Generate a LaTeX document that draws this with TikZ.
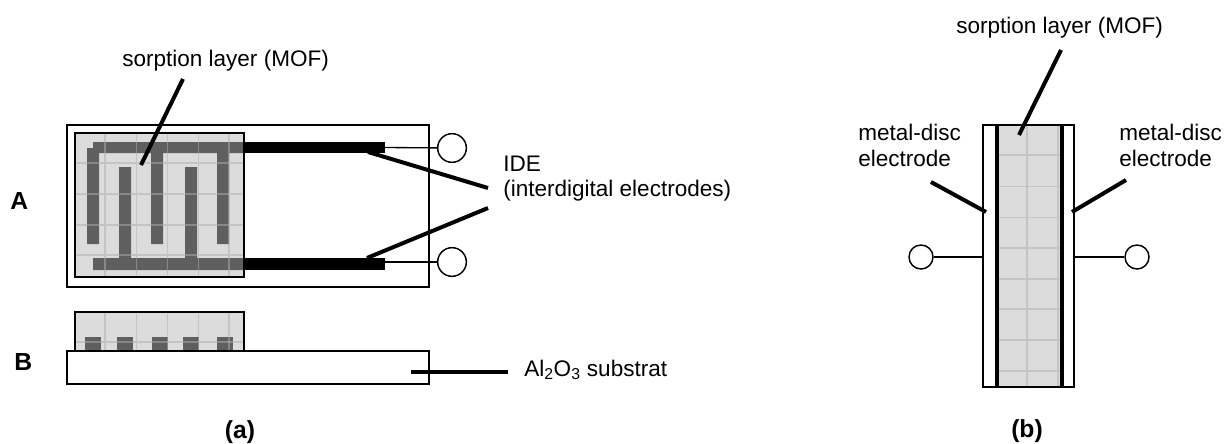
\documentclass[tikz,border=0pt]{standalone}
\usepackage{fontspec}
\setmainfont{Liberation Sans}
\definecolor{mof}{HTML}{DCDCDC}
\definecolor{gridc}{HTML}{C4C4C4}
\definecolor{elec}{HTML}{5F5F5F}
\tikzset{
  x=0.75pt,y=-0.75pt,
  label/.style={inner sep=0pt,font=\fontsize{16.9}{18.75}\selectfont},
  mlabel/.style={label,align=left,anchor=north west},
  head/.style={inner sep=0pt,font=\fontsize{18.5}{22}\selectfont\bfseries},
  frame/.style={draw=black,line width=1.2pt,fill=white},
  moflayer/.style={draw=black,line width=1.5pt,fill=mof},
  gridline/.style={draw=gridc,line width=0.9pt},
  gridover/.style={draw=gridc,line width=0.9pt,draw opacity=0.4},
  elecshape/.style={fill=elec,draw=none},
  bar/.style={fill=black,draw=none},
  leader/.style={draw=black,line width=3pt},
  wire/.style={draw=black,line width=1pt},
  terminal/.style={circle,draw=black,line width=1.1pt,fill=white,inner sep=0pt,minimum size=21.5pt},
  terminalb/.style={circle,draw=black,line width=1.1pt,fill=white,inner sep=0pt,minimum size=18pt},
}
\begin{document}
\begin{tikzpicture}
\useasboundingbox (0,0) rectangle (1224,443);
% ---- (a) top view
\path[frame] (67,125) rectangle (429,287);
\fill[mof] (75,133) rectangle (244,277);
\foreach \gx in {105,136.5,167.5,198.5,229} \draw[gridline] (\gx,133) -- (\gx,277);
\foreach \gy in {163,194,225,255} \draw[gridline] (75,\gy) -- (244,\gy);
\path[elecshape] (93,142) -- (244,142) -- (244,153) -- (229,153) -- (229,244) -- (217,244) -- (217,153)
  -- (163,153) -- (163,244) -- (151,244) -- (151,153) -- (99,153) -- (99,244) -- (87,244) -- (87,148) -- (93,148) -- cycle;
\path[elecshape] (93,258) -- (119,258) -- (119,167) -- (131,167) -- (131,258) -- (185,258) -- (185,167) -- (197,167)
  -- (197,258) -- (244,258) -- (244,270) -- (93,270) -- cycle;
\foreach \gx in {105,136.5,167.5,198.5,229} \draw[gridover] (\gx,133) -- (\gx,277);
\foreach \gy in {163,194,225,255} \draw[gridover] (75,\gy) -- (244,\gy);
\draw[draw=black,line width=1.5pt] (75,133) rectangle (244,277);
\path[bar] (244,142) rectangle (385,153);
\path[bar] (244,258) rectangle (385,270);
\coordinate (barTop) at (385,147.5);
\coordinate (barBot) at (385,262);
\node[terminal] (termTop) at (452,148) {};
\node[terminal] (termBot) at (452,262) {};
\draw[wire] (barTop) -- (termTop);
\draw[wire] (barBot) -- (termBot);
% ---- (a) side view
\path[moflayer] (75,312) rectangle (244,351);
\foreach \gx in {105,136.5,167.5,198.5,229} \draw[gridline] (\gx,313) -- (\gx,350);
\draw[gridline] (76,342) -- (243,342);
\foreach \ex in {85,117,152,183,217} \path[elecshape] (\ex,337) rectangle ++(16,14);
\foreach \gx in {105,136.5,167.5,198.5,229} \draw[gridover] (\gx,313) -- (\gx,350);
\draw[gridover] (76,342) -- (243,342);
\draw[draw=black,line width=1.5pt] (75,312) rectangle (244,351);
\path[frame] (67,351) rectangle (429,384);
% ---- (a) labels and leaders
\node[label,anchor=base west] (sorpA) at (122,66) {sorption layer (MOF)};
\coordinate (sorpAa) at (183,79);
\coordinate (sorpAb) at (141,165);
\draw[leader] (sorpAa) -- (sorpAb);
\node[mlabel] (ide) at (503,155.5) {IDE\\[0.4pt](interdigital electrodes)};
\coordinate (ideA) at (488,188);
\coordinate (ideB) at (368,152);
\coordinate (ideC) at (488,208);
\coordinate (ideD) at (367,258);
\draw[leader] (ideA) -- (ideB);
\draw[leader] (ideC) -- (ideD);
\node[label,anchor=base west] (subst) at (524,376) {Al\textsubscript{2}O\textsubscript{3} substrat};
\coordinate (subA) at (411,372);
\coordinate (subB) at (508,372);
\draw[leader] (subA) -- (subB);
\node[head,anchor=base west] (labA) at (10,209) {A};
\node[head,anchor=base west] (labB) at (14,370) {B};
\node[head,anchor=base] (capa) at (240,438) {(a)};
% ---- (b)
\path[frame] (983,125) rectangle (1074,387);
\fill[mof] (997,126) rectangle (1062,386);
\draw[gridline] (1027,126) -- (1027,386);
\draw[gridline] (1058,126) -- (1058,386);
\foreach \gy in {155,186.5,217.5,248,279,309,340,371} \draw[gridline] (997,\gy) -- (1062,\gy);
\draw[draw=black,line width=3pt] (996.5,125) -- (996.5,387);
\draw[draw=black,line width=3pt] (1062,125) -- (1062,387);
\draw[frame,fill=none] (983,125) rectangle (1074,387);
\node[terminalb] (termL) at (921,257) {};
\node[terminalb] (termR) at (1137,257) {};
\coordinate (discL) at (983,257);
\coordinate (discR) at (1074,257);
\draw[wire] (termL) -- (discL);
\draw[wire] (discR) -- (termR);
\node[label,anchor=base west] (sorpB) at (956,33) {sorption layer (MOF)};
\coordinate (sorpBa) at (1061,50);
\coordinate (sorpBb) at (1019,135);
\draw[leader] (sorpBa) -- (sorpBb);
\node[mlabel] (metL) at (858,124) {metal-disc\\[0.4pt]electrode};
\node[mlabel] (metR) at (1119,124) {metal-disc\\[0.4pt]electrode};
\coordinate (metLa) at (931,182);
\coordinate (metLb) at (986,212);
\coordinate (metRa) at (1126,180);
\coordinate (metRb) at (1072,212);
\draw[leader] (metLa) -- (metLb);
\draw[leader] (metRa) -- (metRb);
\node[head,anchor=base] (capb) at (1027,437) {(b)};
\end{tikzpicture}
\end{document}
